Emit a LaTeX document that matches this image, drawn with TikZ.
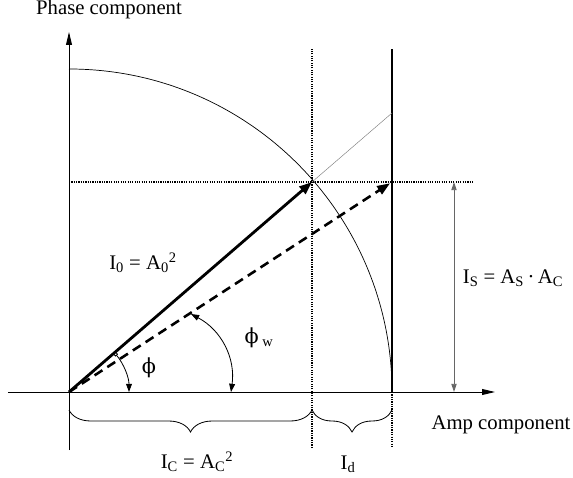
\documentclass[tikz,border=0pt]{standalone}
\usepackage{fontspec}
\setmainfont{Liberation Serif}
\newfontfamily\phifont{DejaVu Serif}
\usepackage{tikz}
\usetikzlibrary{arrows.meta, decorations.pathreplacing, calc}
\tikzstyle{axis} = [line width=0.8pt, -{Triangle[length=11pt,width=5pt]}]
\tikzstyle{label} = [inner sep=1pt, font=\fontsize{17.7}{20}\selectfont]
\tikzstyle{guide} = [line width=1.1pt, dash pattern=on 1pt off 1pt]

\begin{document}
\begin{tikzpicture}[x=0.03cm, y=0.03cm]

    % --- Estilos ---
    \tikzset{
        vec/.style={line width=2.4pt, -{Triangle[length=11pt,width=8pt]}},
        dashvec/.style={line width=2.2pt, dash pattern=on 8pt off 5pt, -{Triangle[length=11pt,width=8pt]}},
        anglearc/.style={line width=0.7pt, -{Triangle[length=7pt,width=5pt]}},
        measure/.style={line width=0.8pt, gray!80!black, {Triangle[length=7pt,width=4.5pt]}-{Triangle[length=7pt,width=4.5pt]}},
        bracedown/.style={line width=0.7pt, decorate, decoration={brace, mirror, amplitude=0.66cm}}
    }
    \useasboundingbox (-69,-85) rectangle (504,392);

    % --- Puntos ---
    \coordinate (O) at (0,0);
    \coordinate (ybot) at (0,-58);
    \coordinate (ytop) at (0,360);
    \coordinate (xleft) at (-61,0);
    \coordinate (xright) at (426,0);
    \coordinate (P) at (243,210);
    \coordinate (Q) at (323,210);
    \coordinate (Pext) at (323,279);
    \coordinate (dtop) at (243,343);
    \coordinate (dbot) at (243,-56);
    \coordinate (ttop) at (323,343);
    \coordinate (tzero) at (323,0);
    \coordinate (tbot) at (323,-56);
    \coordinate (hstart) at (0,210);
    \coordinate (hend) at (405,210);
    \coordinate (stop) at (385,210);
    \coordinate (sbot) at (385,0);
    \coordinate (phistart) at (40.8:60);
    \coordinate (wstart) at (122,78);
    \coordinate (wend) at (162,0);

    % --- Ejes ---
    \draw [axis] (xleft) -- (xright);
    \draw [axis] (ybot) -- (ytop);
    \draw [line width=0.6pt] (0,323) arc[start angle=90, end angle=0, radius=323];

    % --- Lineas guia ---
    \draw [guide] (dbot) -- (dtop);
    \draw [guide] (hstart) -- (hend);
    \draw [guide] (tzero) -- (tbot);
    \draw [line width=2.4pt] (tzero) -- (ttop);
    \draw [line width=0.4pt, gray] (P) -- (Pext);

    % --- Vectores ---
    \draw [vec] (O) -- (P);
    \draw [dashvec, shorten >=2pt] (O) -- (Q);
    \draw [anglearc, {Square[open,length=3pt,width=3pt]}-{Triangle[length=7pt,width=5pt]}] (phistart) arc[start angle=40.8, end angle=0, radius=60];
    \draw [anglearc, {Triangle[length=7pt,width=5pt]}-{Triangle[length=7pt,width=5pt]}] (wstart) to[bend left=35] (wend);
    \draw [measure] (stop) -- (sbot);

    % --- Llaves ---
    \draw [bracedown] (0,-18) -- (243,-18);
    \draw [bracedown] (243,-18) -- (323,-18);

    % --- Textos ---
    \node (phase) [label] at (40,382) {Phase component};
    \node (amp) [label] at (432,-33) {Amp component};
    \node (izero) [label] at (74,129) {I\textsubscript{0} = A\textsubscript{0}\textsuperscript{2}};
    \node (phi) [label] at (80,24) {{\phifont ϕ}};
    \node (phiw) [label] at (190,54) {{\phifont ϕ}\,\textsubscript{w}};
    \node (is) [label] at (444,114) {I\textsubscript{S} = A\textsubscript{S}\,·\,A\textsubscript{C}};
    \node (ic) [label] at (128,-70) {I\textsubscript{C} = A\textsubscript{C}\textsuperscript{2}};
    \node (id) [label] at (279,-72) {I\textsubscript{d}};

\end{tikzpicture}
\end{document}
